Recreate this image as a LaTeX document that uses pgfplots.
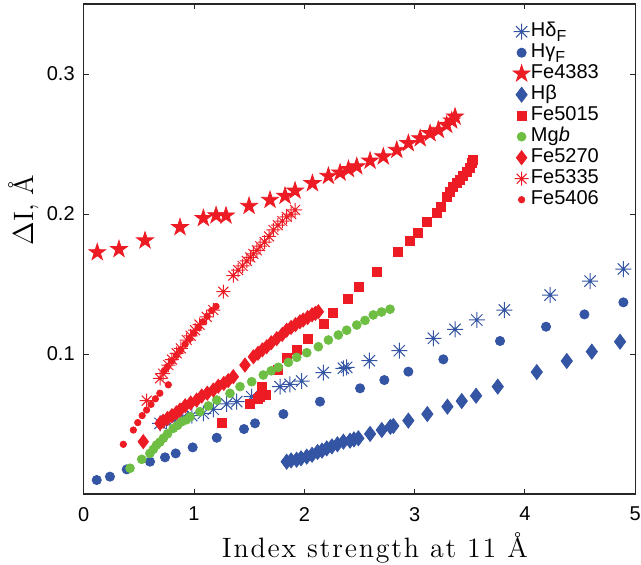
\documentclass[border=0pt]{standalone}
\usepackage{fontspec}
\usepackage{pgfplots}
\pgfplotsset{compat=1.18}
\newfontfamily\hv{Liberation Sans}
\newfontfamily\lmwide{Latin Modern Roman}[LetterSpace=6.5]
\definecolor{mblue}{RGB}{52,84,164}
\definecolor{mred}{RGB}{237,28,36}
\definecolor{mgreen}{RGB}{110,190,68}
\pgfdeclareplotmark{ast8}{%
  \pgfpathmoveto{\pgfqpoint{-\pgfplotmarksize}{0pt}}\pgfpathlineto{\pgfqpoint{\pgfplotmarksize}{0pt}}%
  \pgfpathmoveto{\pgfqpoint{0pt}{-\pgfplotmarksize}}\pgfpathlineto{\pgfqpoint{0pt}{\pgfplotmarksize}}%
  \pgfpathmoveto{\pgfqpoint{-0.7071\pgfplotmarksize}{-0.7071\pgfplotmarksize}}\pgfpathlineto{\pgfqpoint{0.7071\pgfplotmarksize}{0.7071\pgfplotmarksize}}%
  \pgfpathmoveto{\pgfqpoint{-0.7071\pgfplotmarksize}{0.7071\pgfplotmarksize}}\pgfpathlineto{\pgfqpoint{0.7071\pgfplotmarksize}{-0.7071\pgfplotmarksize}}%
  \pgfusepathqstroke}
\pgfdeclareplotmark{pentagram}{%
  \pgfpathmoveto{\pgfqpointpolar{90}{\pgfplotmarksize}}%
  \pgfpathlineto{\pgfqpointpolar{126}{0.382\pgfplotmarksize}}%
  \pgfpathlineto{\pgfqpointpolar{162}{\pgfplotmarksize}}%
  \pgfpathlineto{\pgfqpointpolar{198}{0.382\pgfplotmarksize}}%
  \pgfpathlineto{\pgfqpointpolar{234}{\pgfplotmarksize}}%
  \pgfpathlineto{\pgfqpointpolar{270}{0.382\pgfplotmarksize}}%
  \pgfpathlineto{\pgfqpointpolar{306}{\pgfplotmarksize}}%
  \pgfpathlineto{\pgfqpointpolar{342}{0.382\pgfplotmarksize}}%
  \pgfpathlineto{\pgfqpointpolar{18}{\pgfplotmarksize}}%
  \pgfpathlineto{\pgfqpointpolar{54}{0.382\pgfplotmarksize}}%
  \pgfpathclose\pgfusepathqfillstroke}
\begin{document}
\begin{tikzpicture}
\path[use as bounding box] (-41.85pt,-35pt) rectangle (278.65pt,247pt);
\begin{axis}[
  scale only axis, width=275.8pt, height=245pt,
  xmin=0, xmax=5, ymin=0, ymax=0.35,
  xtick={0,1,2,3,4,5}, ytick={0.1,0.2,0.3},
  tick align=inside, major tick length=2.5pt,
  axis line style={line width=0.75pt, black!85},
  every tick/.style={black!85, line width=0.5pt},
  /pgf/number format/assume math mode=true,
  tick label style={font=\hv\fontsize{10}{12}\selectfont},
  yticklabel style={/pgf/number format/fixed, /pgf/number format/precision=1, /pgf/number format/fixed zerofill, xshift=-1pt},
  xticklabel style={yshift=-3pt},
  scaled y ticks=false,
  xlabel={Index strength at 11 Å},
  ylabel={$\Delta$I, Å},
  every axis x label/.style={at={(axis description cs:0.528,-0.1286)}, anchor=base, font=\lmwide\fontsize{14}{16}\selectfont},
  every axis y label/.style={at={(axis description cs:-0.0917,0.5796)}, anchor=base, rotate=90, font=\fontsize{14}{16}\selectfont},
  legend cell align=left,
  legend style={at={(axis cs:3.89,0.338)}, anchor=north west, draw=none, fill=none, inner sep=0pt, row sep=0pt,
    font=\hv\fontsize{10}{12}\selectfont,
    nodes={inner sep=0.5pt, text height=7.2pt, text depth=2.3pt}},
  legend image code/.code={\draw[mark repeat=2,mark phase=2,#1] plot coordinates {(0cm,0cm)(0.22cm,0cm)(0.44cm,0cm)};},
  clip=false,
]
% H delta F
\addplot[only marks, mark=ast8, mark size=4pt, color=mblue, line width=0.5pt] coordinates {
(0.692,0.0505)(0.75,0.052)(0.82,0.053)(0.90,0.055)(0.98,0.056)(1.085,0.0576)(1.175,0.0605)(1.296,0.0643)(1.387,0.066)(1.523,0.0695)(1.78,0.0767)(1.87,0.0783)(1.976,0.0807)(2.172,0.0867)(2.354,0.0898)(2.384,0.0905)(2.59,0.0952)(2.861,0.1024)(3.17,0.1112)(3.366,0.1176)(3.563,0.1243)(3.813,0.1314)(4.228,0.1421)(4.59,0.1521)(4.892,0.1607)};
\addlegendentry{Hδ\raisebox{-2.2pt}{\fontsize{8}{9}\selectfont F}}
% H gamma F
\addplot[only marks, mark=*, mark size=2.3pt, color=mblue] coordinates {
(0.118,0.010)(0.238,0.0124)(0.39,0.0176)(0.601,0.0231)(0.737,0.0262)(0.834,0.029)(0.988,0.0333)(1.206,0.0402)(1.453,0.0464)(1.553,0.0505)(1.81,0.0571)(2.142,0.066)(2.505,0.0755)(2.725,0.0814)(2.943,0.0874)(3.26,0.0962)(3.774,0.1093)(4.191,0.1195)(4.539,0.1283)(4.892,0.1369)};
\addlegendentry{Hγ\raisebox{-2.2pt}{\fontsize{8}{9}\selectfont F}}
% Fe4383
\addplot[only marks, mark=pentagram, mark size=4.4pt, color=mred] coordinates {
(0.123,0.1726)(0.32,0.1748)(0.556,0.181)(0.873,0.1905)(1.085,0.197)(1.2,0.199)(1.29,0.1988)(1.499,0.2057)(1.689,0.210)(1.825,0.2129)(1.916,0.2166)(2.073,0.2219)(2.218,0.2271)(2.324,0.2295)(2.40,0.232)(2.475,0.234)(2.596,0.238)(2.716,0.241)(2.838,0.2457)(2.943,0.2505)(3.05,0.254)(3.14,0.2576)(3.215,0.26)(3.29,0.2636)(3.336,0.2667)(3.366,0.2695)};
\addlegendentry{Fe4383}
% H beta
\addplot[only marks, mark=diamond*, mark size=3.75pt, color=mblue] coordinates {
(1.84,0.0231)(1.88,0.024)(1.93,0.0245)(1.97,0.0255)(2.022,0.0267)(2.07,0.028)(2.12,0.030)(2.16,0.031)(2.203,0.0326)(2.25,0.034)(2.30,0.0355)(2.354,0.0374)(2.414,0.0381)(2.45,0.039)(2.49,0.0398)(2.596,0.0429)(2.702,0.0457)(2.78,0.048)(2.807,0.0486)(2.943,0.0524)(3.115,0.0571)(3.297,0.0624)(3.427,0.0664)(3.557,0.0702)(3.753,0.0767)(4.107,0.0871)(4.379,0.095)(4.606,0.1017)(4.862,0.1088)};
\addlegendentry{Hβ}
% Fe5015
\addplot[only marks, mark=square*, mark size=2.25pt, color=mred] coordinates {
(1.251,0.0505)(1.502,0.0643)(1.58,0.068)(1.6,0.0695)(1.614,0.0767)(1.65,0.071)(1.764,0.0886)(1.84,0.0969)(1.931,0.1029)(2.03,0.1105)(2.179,0.1214)(2.263,0.1295)(2.393,0.1393)(2.499,0.148)(2.656,0.159)(2.852,0.1726)(2.958,0.181)(3.028,0.1866)(3.115,0.1945)(3.2,0.2005)(3.24,0.205)(3.29,0.2124)(3.32,0.216)(3.35,0.2195)(3.38,0.222)(3.41,0.2243)(3.44,0.227)(3.47,0.2302)(3.50,0.233)(3.518,0.2362)(3.53,0.2386)};
\addlegendentry{Fe5015}
% Mgb
\addplot[only marks, mark=*, mark size=2.2pt, color=mgreen] coordinates {
(0.42,0.0184)(0.526,0.0248)(0.60,0.029)(0.631,0.0319)(0.66,0.035)(0.69,0.037)(0.722,0.0398)(0.76,0.043)(0.812,0.0469)(0.85,0.049)(0.888,0.0516)(0.93,0.053)(0.964,0.0552)(1.054,0.0588)(1.13,0.0629)(1.206,0.0671)(1.326,0.0719)(1.417,0.0767)(1.523,0.0802)(1.628,0.085)(1.70,0.088)(1.764,0.0905)(1.855,0.094)(1.931,0.0976)(2.022,0.1009)(2.127,0.1052)(2.218,0.110)(2.308,0.1136)(2.384,0.117)(2.475,0.1207)(2.55,0.124)(2.625,0.1279)(2.70,0.130)(2.777,0.132)};
\addlegendentry{Mg\textit{b}}
% Fe5270
\addplot[only marks, mark=diamond*, mark size=3.5pt, color=mred] coordinates {
(0.54,0.0374)(0.692,0.0505)(0.72,0.052)(0.76,0.054)(0.80,0.056)(0.84,0.058)(0.873,0.060)(0.92,0.063)(0.97,0.065)(1.024,0.0671)(1.07,0.070)(1.12,0.072)(1.175,0.0743)(1.22,0.077)(1.27,0.079)(1.31,0.081)(1.356,0.0838)(1.462,0.0921)(1.538,0.098)(1.58,0.1005)(1.62,0.103)(1.659,0.1052)(1.70,0.108)(1.75,0.111)(1.80,0.114)(1.84,0.117)(1.88,0.119)(1.92,0.121)(1.96,0.123)(1.99,0.1243)(2.03,0.126)(2.07,0.128)(2.10,0.129)(2.127,0.1302)};
\addlegendentry{Fe5270}
% Fe5335
\addplot[only marks, mark=ast8, mark size=3.5pt, color=mred, line width=0.5pt] coordinates {
(0.571,0.0667)(0.692,0.0826)(0.72,0.086)(0.767,0.0921)(0.80,0.096)(0.843,0.1005)(0.88,0.104)(0.934,0.110)(0.97,0.113)(1.009,0.117)(1.05,0.121)(1.115,0.1266)(1.175,0.1314)(1.266,0.1445)(1.356,0.156)(1.40,0.160)(1.44,0.163)(1.478,0.1665)(1.51,0.169)(1.538,0.1715)(1.57,0.174)(1.60,0.177)(1.64,0.180)(1.68,0.184)(1.72,0.1886)(1.76,0.192)(1.80,0.195)(1.84,0.198)(1.88,0.200)(1.916,0.2029)};
\addlegendentry{Fe5335}
% Fe5406
\addplot[only marks, mark=*, mark size=1.6pt, color=mred] coordinates {
(0.359,0.0355)(0.45,0.0457)(0.49,0.051)(0.53,0.056)(0.57,0.060)(0.61,0.064)(0.65,0.068)(0.69,0.072)(0.767,0.078)(0.73,0.088)(0.76,0.091)(0.80,0.095)(0.84,0.099)(0.88,0.103)(0.92,0.107)(0.96,0.111)(1.0,0.115)(1.04,0.119)(1.08,0.123)(1.12,0.127)(1.16,0.131)(1.20,0.134)};
\addlegendentry{Fe5406}
\end{axis}
\end{tikzpicture}
\end{document}
